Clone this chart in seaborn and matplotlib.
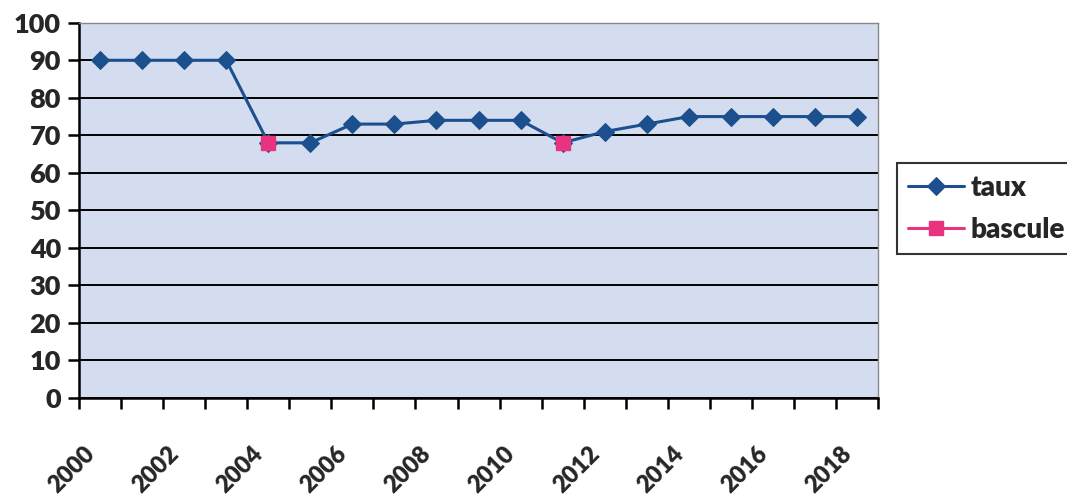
import numpy as np
import pandas as pd
import matplotlib
matplotlib.use("Agg")
import matplotlib.pyplot as plt
import seaborn as sns

# Yearly rate series and the two switch-over years
years = list(range(2000, 2019))
taux = [90, 90, 90, 90, 68, 68, 73, 73, 74, 74, 74, 68, 71, 73, 75, 75, 75, 75, 75]
bascule = [np.nan, np.nan, np.nan, np.nan, 68, np.nan, np.nan, np.nan, np.nan, np.nan,
           np.nan, 68, np.nan, np.nan, np.nan, np.nan, np.nan, np.nan, np.nan]
y_ticks = list(range(0, 101, 10))

df = pd.DataFrame({"pos": range(len(years)), "taux": taux, "bascule": bascule})

sns.set_theme(style="white")
plt.rcParams["font.family"] = ["Lato", "DejaVu Sans"]
plt.rcParams["font.weight"] = "heavy"

fig = plt.figure(figsize=(10.67, 4.95), dpi=100)
ax = fig.add_axes([0.074, 0.196, 0.749, 0.758])
ax.set_facecolor("#d3ddef")

blue = "#1c4f8e"
pink = "#e8337f"

sns.lineplot(data=df, x="pos", y="taux", ax=ax, color=blue, linewidth=2.2,
             marker="D", markersize=9.5, markeredgecolor=blue, label="taux", zorder=3)
# switch-over points: gaps stay unconnected
ax.plot(df["pos"], df["bascule"], color=pink, linewidth=2.2, marker="s",
        markersize=10, markeredgecolor=pink, label="bascule", zorder=4)

ax.set_xlim(-0.5, len(years) - 0.5)
ax.set_ylim(0, 100)
ax.set_yticks(y_ticks)
ax.set_yticklabels([str(v) for v in y_ticks], fontsize=19.5, fontweight="heavy")
ax.yaxis.grid(True, color="black", linewidth=1.4)
ax.set_axisbelow(True)

# category tick marks between years; labels every other year, set slightly
# left of the category centre so the slanted text ends under it
label_pos = np.arange(0, len(years), 2) - 0.4
ax.set_xticks(np.arange(-0.5, len(years), 1.0), minor=True)
ax.set_xticks(label_pos)
ax.set_xticklabels([str(y) for y in years[::2]], rotation=45, ha="right", va="top",
                   rotation_mode="anchor", fontsize=17, fontweight="heavy")
ax.tick_params(axis="x", which="major", length=0, pad=32, bottom=True)
ax.tick_params(axis="x", which="minor", length=8, width=1.8, color="black",
               direction="out", bottom=True)
ax.tick_params(axis="y", length=8, width=1.8, color="black", direction="out",
               pad=5, left=True)
ax.set_xlabel("")
ax.set_ylabel("")

for side in ["left", "bottom"]:
    ax.spines[side].set_color("black")
    ax.spines[side].set_linewidth(1.8)
for side in ["top", "right"]:
    ax.spines[side].set_color("#888888")
    ax.spines[side].set_linewidth(1.0)

leg = ax.legend(loc="center left", bbox_to_anchor=(1.024, 0.504), frameon=True,
                fancybox=False, edgecolor="black", prop={"size": 20, "weight": "heavy"},
                handlelength=2.0, borderpad=0.4, labelspacing=0.6, handletextpad=0.25,
                borderaxespad=0)
leg.get_frame().set_linewidth(1.5)

fig.savefig("out.png", dpi=100, facecolor="white")
